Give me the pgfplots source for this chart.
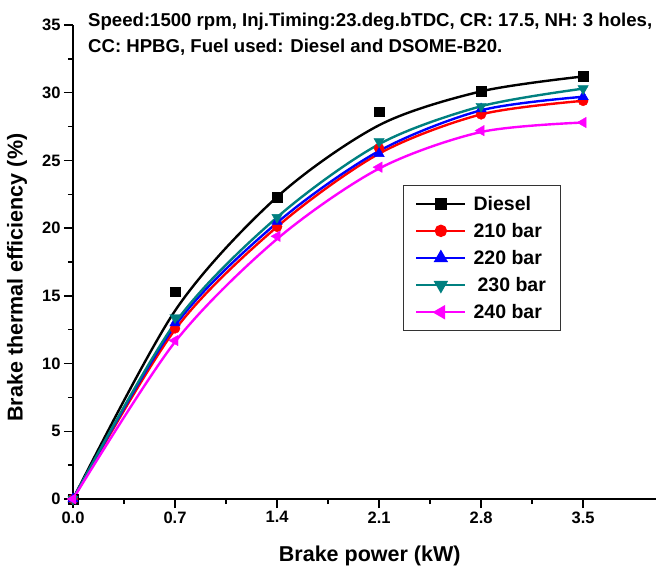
\documentclass[border=0pt]{standalone}
\usepackage{fontspec}
\setmainfont{Liberation Sans}
\usepackage{pgfplots}
\pgfplotsset{compat=1.18}
\definecolor{teal2}{RGB}{0,128,128}
\definecolor{mag}{RGB}{255,0,255}
\begin{document}
\begin{tikzpicture}
\begin{axis}[
  at={(0,0)}, anchor=south west,
  scale only axis, width=583pt, height=474pt,
  xmin=0, xmax=4.0, ymin=0, ymax=35,
  axis x line*=bottom, axis y line*=left,
  axis line style={line width=1.5pt},
  xtick={0,0.7,1.4,2.1,2.8,3.5},
  ytick={0,5,...,35},
  minor x tick num=1, minor y tick num=1,
  tick align=outside,
  major tick length=9pt, minor tick length=5pt,
  every tick/.style={line width=1.3pt, black},
  xticklabel style={/pgf/number format/.cd, fixed, fixed zerofill, precision=1, assume math mode=true},
  yticklabel style={/pgf/number format/.cd, assume math mode=true},
  tick label style={font=\fontsize{16.5}{18}\selectfont\bfseries},
  xlabel={Brake power (kW)},
  ylabel={Brake thermal efficiency (\%)},
  label style={font=\fontsize{21.5}{24}\selectfont\bfseries},
  xlabel style={at={(axis description cs:0.509,-0.120)}, anchor=center},
  ylabel style={at={(axis description cs:-0.096,0.467)}, anchor=center},
  clip=false,
  legend cell align=left,
  legend style={at={(rel axis cs:0.566,0.662)}, anchor=north west,
    draw=black!80, fill=white,
    font=\fontsize{19.5}{21}\selectfont\bfseries,
    inner xsep=12pt, inner ysep=8.5pt, row sep=7.5pt,
    /tikz/every odd column/.append style={column sep=5pt}},
  legend image code/.code={\draw[mark repeat=2,mark phase=2,#1,line width=2.4pt] plot coordinates {(0pt,0pt) (24.5pt,0pt) (49pt,0pt)};},
]
% fitted curves
\addplot[black, line width=2.4pt, smooth, forget plot] coordinates {(0,0) (0.7,13.9) (1.4,22.3) (2.1,27.6) (2.8,30.1) (3.5,31.2)};
\addplot[red, line width=2.4pt, smooth, forget plot] coordinates {(0,0) (0.7,12.5) (1.4,20.1) (2.1,25.5) (2.8,28.4) (3.5,29.4)};
\addplot[blue, line width=2.4pt, smooth, forget plot] coordinates {(0,0) (0.7,12.8) (1.4,20.4) (2.1,25.7) (2.8,28.7) (3.5,29.7)};
\addplot[teal2, line width=2.4pt, smooth, forget plot] coordinates {(0,0) (0.7,13.0) (1.4,20.8) (2.1,26.2) (2.8,29.0) (3.5,30.3)};
\addplot[mag, line width=2.4pt, smooth, forget plot] coordinates {(0,0) (0.7,11.6) (1.4,19.2) (2.1,24.4) (2.8,27.1) (3.5,27.8)};
% measured points
\addplot[only marks, black, mark=square*, mark size=4.8pt, forget plot] coordinates {(0,0) (0.7,15.3) (1.4,22.3) (2.1,28.6) (2.8,30.1) (3.5,31.2)};
\addplot[only marks, red, mark=*, mark size=5pt, forget plot] coordinates {(0,0) (0.7,12.6) (1.4,20.1) (2.1,25.9) (2.8,28.4) (3.5,29.4)};
\addplot[only marks, blue, mark=triangle*, mark size=6pt, forget plot] coordinates {(0,0) (0.7,13.0) (1.4,20.5) (2.1,25.5) (2.8,28.8) (3.5,29.7)};
\addplot[only marks, teal2, mark=triangle*, mark size=6pt, mark options={rotate=180}, forget plot] coordinates {(0,0) (0.7,13.4) (1.4,20.8) (2.1,26.4) (2.8,29.0) (3.5,30.3)};
\addplot[only marks, mag, mark=triangle*, mark size=6pt, mark options={rotate=90}, forget plot] coordinates {(0,0) (0.7,11.7) (1.4,19.4) (2.1,24.5) (2.8,27.2) (3.5,27.8)};
\addlegendimage{black, mark=square*, mark size=4.8pt}
\addlegendentry{Diesel}
\addlegendimage{red, mark=*, mark size=5pt}
\addlegendentry{210 bar}
\addlegendimage{blue, mark=triangle*, mark size=6pt}
\addlegendentry{220 bar}
\addlegendimage{teal2, mark=triangle*, mark size=6pt, mark options={rotate=180}}
\addlegendentry{\hspace{4pt}230 bar}
\addlegendimage{mag, mark=triangle*, mark size=6pt, mark options={rotate=90}}
\addlegendentry{240 bar}
\end{axis}
\node[anchor=base west, font=\fontsize{18.6}{21}\selectfont\bfseries, inner sep=0pt] at (15pt,472pt) {Speed:1500 rpm, Inj.Timing:23.deg.bTDC, CR: 17.5, NH: 3 holes,};
\node[anchor=base west, font=\fontsize{18.6}{21}\selectfont\bfseries, inner sep=0pt] at (15pt,446pt) {CC: HPBG, Fuel used: Diesel and DSOME-B20.};
\pgfresetboundingbox
\path[use as bounding box] (-73pt,-68pt) rectangle (587pt,499pt);
\end{tikzpicture}
\end{document}
